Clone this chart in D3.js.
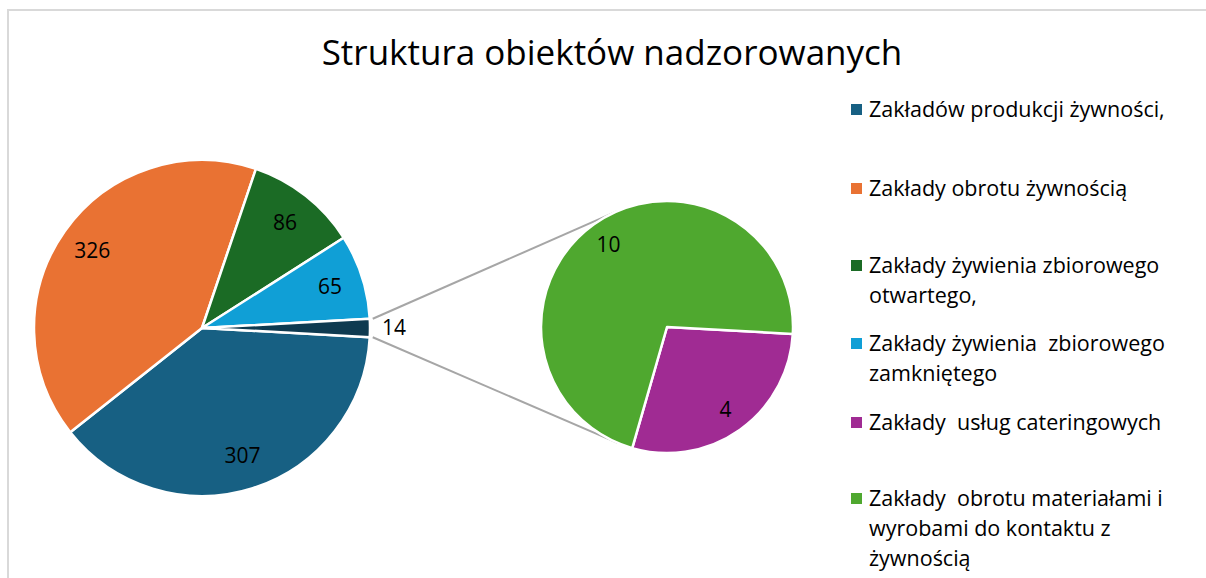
<!DOCTYPE html>
<html>
<head>
<meta charset="utf-8">
<script src="https://cdn.jsdelivr.net/npm/d3@7"></script>
<style>
  body { margin: 0; background: #fff; }
  svg { display: block; font-family: "Open Sans", sans-serif; }
</style>
</head>
<body>
<svg id="chart" width="1206" height="578"></svg>
<script>
// main pie: categories + values (last entry is the "other" slice = sum of secondary)
const MAIN_LABELS = ['Zakładów produkcji żywności,', 'Zakłady obrotu żywnością',
  'Zakłady żywienia zbiorowego otwartego,', 'Zakłady żywienia  zbiorowego zamkniętego', 'Inne'];
const MAIN_VALUES = [307, 326, 86, 65, 14];
const MAIN_COLORS = ['#176083', '#e97233', '#1b6b25', '#109fd6', '#0e3a50'];

// secondary pie
const SUB_LABELS = ['Zakłady  usług cateringowych', 'Zakłady  obrotu materiałami i wyrobami do kontaktu z żywnością'];
const SUB_VALUES = [4, 10];
const SUB_COLORS = ['#a02b93', '#4fa82f'];

// legend lines (wrapped like the original)
const LEGEND_LINES = [
  ['Zakładów produkcji żywności,'],
  ['Zakłady obrotu żywnością'],
  ['Zakłady żywienia zbiorowego', 'otwartego,'],
  ['Zakłady żywienia  zbiorowego', 'zamkniętego'],
  ['Zakłady  usług cateringowych'],
  ['Zakłady  obrotu materiałami i', 'wyrobami do kontaktu z', 'żywnością']
];
const LEGEND_COLORS = ['#176083', '#e97233', '#1b6b25', '#109fd6', '#a02b93', '#4fa82f'];
const LEGEND_Y = [109, 188, 265, 343, 422, 498];

const TITLE = 'Struktura obiektów nadzorowanych';

const svg = d3.select('#chart');

// frame
svg.append('rect')
  .attr('x', 8).attr('y', 10).attr('width', 1210).attr('height', 600)
  .attr('fill', 'none').attr('stroke', '#d9d9d9').attr('stroke-width', 2);

svg.append('text')
  .attr('x', 612).attr('y', 65)
  .attr('text-anchor', 'middle')
  .style('font-size', '35px').style('fill', '#000')
  .text(TITLE);

const mainC = {x: 202, y: 328, r: 168};
const subC = {x: 667, y: 327, r: 126};

const total = d3.sum(MAIN_VALUES);
const half = Math.PI * MAIN_VALUES[MAIN_VALUES.length - 1] / total;
const start = Math.PI / 2 + half;

const mainPie = d3.pie().sort(null).startAngle(start).endAngle(start + 2 * Math.PI);
const subPie = d3.pie().sort(null).startAngle(start).endAngle(start + 2 * Math.PI);

const mainArc = d3.arc().innerRadius(0).outerRadius(mainC.r);
const mainLabelArc = d3.arc().innerRadius(mainC.r * 0.8).outerRadius(mainC.r * 0.8);
const subArc = d3.arc().innerRadius(0).outerRadius(subC.r);
const subLabelArc = d3.arc().innerRadius(subC.r * 0.8).outerRadius(subC.r * 0.8);

// connector lines: from the outer corners of the "other" slice, tangent to the secondary pie
const p1 = [mainC.x + mainC.r * Math.cos(half), mainC.y - mainC.r * Math.sin(half)];
const p2 = [mainC.x + mainC.r * Math.cos(half), mainC.y + mainC.r * Math.sin(half)];
function tangent(p, sign) {
  const dx = p[0] - subC.x, dy = p[1] - subC.y;
  const d = Math.sqrt(dx * dx + dy * dy);
  const base = Math.atan2(dy, dx);
  const a = base + sign * Math.acos(subC.r / d);
  return [subC.x + subC.r * Math.cos(a), subC.y + subC.r * Math.sin(a)];
}
const lines = [[p1, tangent(p1, 1)], [p2, tangent(p2, -1)]];
svg.selectAll('.connector').data(lines).enter().append('line')
  .attr('class', 'connector')
  .attr('x1', d => d[0][0] + 3).attr('y1', d => d[0][1])
  .attr('x2', d => d[1][0]).attr('y2', d => d[1][1])
  .attr('stroke', '#a6a6a6').attr('stroke-width', 2);

const gMain = svg.append('g').attr('transform', `translate(${mainC.x},${mainC.y})`);
const mainData = mainPie(MAIN_VALUES);
gMain.selectAll('path').data(mainData).enter().append('path')
  .attr('d', mainArc)
  .attr('fill', (d, i) => MAIN_COLORS[i])
  .attr('stroke', '#fff').attr('stroke-width', 2.5).attr('stroke-linejoin', 'round');

gMain.selectAll('text').data(mainData).enter().append('text')
  .attr('transform', (d, i) => {
    if (i === MAIN_VALUES.length - 1) return `translate(${mainC.r + 24},0)`;
    const c = mainLabelArc.centroid(d);
    return `translate(${c[0]},${c[1]})`;
  })
  .attr('text-anchor', 'middle').attr('dy', '0.35em')
  .style('font-size', '21px').style('fill', '#000')
  .text(d => d.value);

const gSub = svg.append('g').attr('transform', `translate(${subC.x},${subC.y})`);
const subData = subPie(SUB_VALUES);
gSub.selectAll('path').data(subData).enter().append('path')
  .attr('d', subArc)
  .attr('fill', (d, i) => SUB_COLORS[i])
  .attr('stroke', '#fff').attr('stroke-width', 2.5).attr('stroke-linejoin', 'round');

gSub.selectAll('text').data(subData).enter().append('text')
  .attr('transform', d => {
    const c = subLabelArc.centroid(d);
    return `translate(${c[0]},${c[1]})`;
  })
  .attr('text-anchor', 'middle').attr('dy', '0.35em')
  .style('font-size', '21px').style('fill', '#000')
  .text(d => d.value);

// legend
const legend = svg.append('g');
const items = legend.selectAll('g').data(LEGEND_LINES).enter().append('g')
  .attr('transform', (d, i) => `translate(851,${LEGEND_Y[i]})`);
items.append('rect')
  .attr('x', 0).attr('y', -5).attr('width', 11).attr('height', 11)
  .attr('fill', (d, i) => LEGEND_COLORS[i]);
items.each(function(lines) {
  d3.select(this).selectAll('text').data(lines).enter().append('text')
    .attr('x', 18).attr('y', (d, j) => j * 30)
    .attr('dy', '0.36em')
    .style('font-size', '21.5px').style('fill', '#000')
    .style('white-space', 'pre')
    .text(d => d);
});
</script>
</body>
</html>
